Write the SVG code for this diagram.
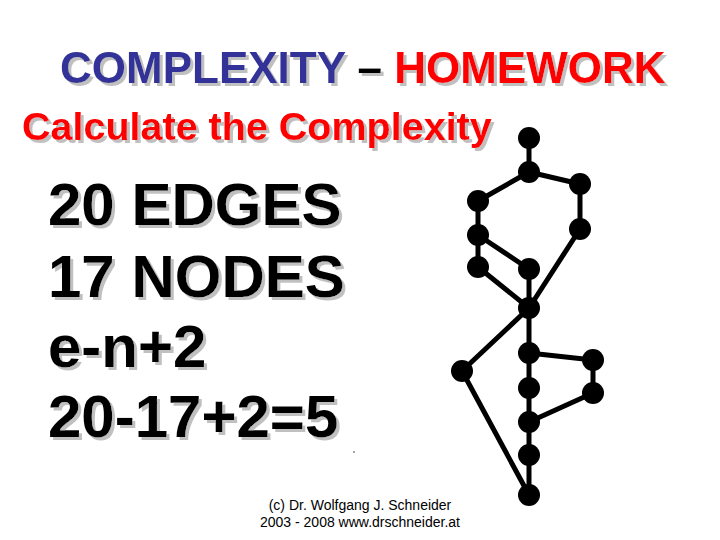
<svg xmlns="http://www.w3.org/2000/svg" width="720" height="540" viewBox="0 0 720 540">
<defs>
<filter id="shadow" x="-5%" y="-20%" width="110%" height="140%">
<feOffset in="SourceAlpha" dx="2.5" dy="2.5" result="o"/>
<feFlood flood-color="#c0c0c0"/>
<feComposite in2="o" operator="in" result="s"/>
<feMerge><feMergeNode in="s"/><feMergeNode in="SourceGraphic"/></feMerge>
</filter>
</defs>
<style>
.t{font-family:"Liberation Sans",Arial,sans-serif}
.big{font-size:60px;font-weight:bold;fill:#000}
.edge{stroke:#000;stroke-width:5;stroke-linecap:round;fill:none}
.node{fill:#000}
.foot{font-size:14px;fill:#000;text-anchor:middle}
</style>
<rect width="720" height="540" fill="#fff"/>
<g id="title" class="t" font-size="44" font-weight="bold" filter="url(#shadow)">
<text x="60" y="83"><tspan fill="#333399">COMPLEXITY</tspan><tspan fill="#000"> – </tspan><tspan fill="#ff0000">HOMEWORK</tspan></text>
</g>
<g id="subtitle" class="t" font-size="39.5" font-weight="bold" filter="url(#shadow)">
<text x="22" y="140" fill="#ff0000">Calculate the Complexity</text>
</g>
<g id="calc" class="t big" filter="url(#shadow)">
<text x="48" y="225">20 EDGES</text>
<text x="48" y="297">17 NODES</text>
<text x="48" y="367">e-n+2</text>
<text x="48" y="437">20-17+2=5</text>
</g>
<circle cx="354" cy="452" r="0.8" fill="#333"/>
<g id="footer" class="t foot">
<text x="360" y="510">(c) Dr. Wolfgang J. Schneider</text>
<text x="360" y="527">2003 - 2008 www.drschneider.at</text>
</g>
<g id="connectors" class="edge">
<line x1="529" y1="138" x2="529" y2="172"/>
<line x1="529" y1="172" x2="580" y2="184"/>
<line x1="529" y1="172" x2="478" y2="201"/>
<line x1="478" y1="201" x2="478" y2="235"/>
<line x1="478" y1="235" x2="478" y2="267"/>
<line x1="478" y1="235" x2="529" y2="269"/>
<line x1="580" y1="184" x2="580" y2="229"/>
<line x1="580" y1="229" x2="529" y2="308"/>
<line x1="478" y1="267" x2="529" y2="308"/>
<line x1="529" y1="269" x2="529" y2="308"/>
<line x1="529" y1="308" x2="462" y2="371"/>
<line x1="529" y1="308" x2="529" y2="353"/>
<line x1="529" y1="353" x2="593" y2="360"/>
<line x1="593" y1="360" x2="593" y2="393"/>
<line x1="593" y1="393" x2="529" y2="422"/>
<line x1="529" y1="353" x2="529" y2="388"/>
<line x1="529" y1="388" x2="529" y2="422"/>
<line x1="529" y1="422" x2="529" y2="455"/>
<line x1="529" y1="455" x2="529" y2="495"/>
<line x1="462" y1="371" x2="529" y2="495"/>
</g>
<g id="nA"><circle class="node" cx="529" cy="138" r="11"/></g>
<g id="nB"><circle class="node" cx="529" cy="172" r="11"/></g>
<g id="nC"><circle class="node" cx="580" cy="184" r="11"/></g>
<g id="nD"><circle class="node" cx="478" cy="201" r="11"/></g>
<g id="nE"><circle class="node" cx="478" cy="235" r="11"/></g>
<g id="nF"><circle class="node" cx="580" cy="229" r="11"/></g>
<g id="nG"><circle class="node" cx="478" cy="267" r="11"/></g>
<g id="nH"><circle class="node" cx="529" cy="269" r="11"/></g>
<g id="nI"><circle class="node" cx="529" cy="308" r="11"/></g>
<g id="nJ"><circle class="node" cx="529" cy="353" r="11"/></g>
<g id="nK"><circle class="node" cx="593" cy="360" r="11"/></g>
<g id="nL"><circle class="node" cx="462" cy="371" r="11"/></g>
<g id="nM"><circle class="node" cx="529" cy="388" r="11"/></g>
<g id="nN"><circle class="node" cx="593" cy="393" r="11"/></g>
<g id="nO"><circle class="node" cx="529" cy="422" r="11"/></g>
<g id="nP"><circle class="node" cx="529" cy="455" r="11"/></g>
<g id="nQ"><circle class="node" cx="529" cy="495" r="11"/></g>
</svg>
